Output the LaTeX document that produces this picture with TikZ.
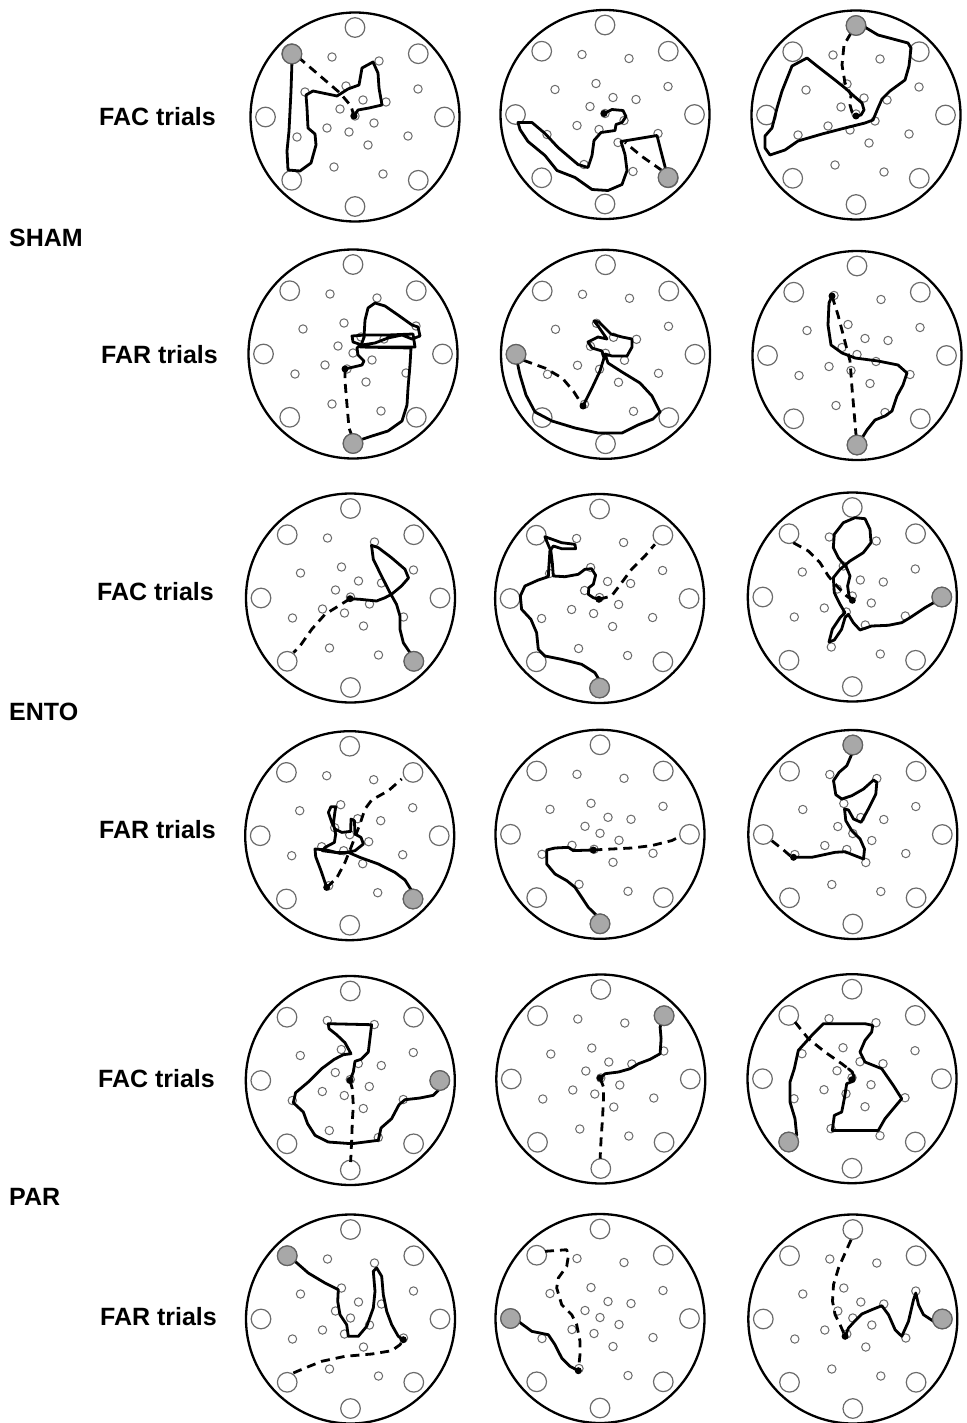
\documentclass[tikz,border=0pt]{standalone}
\usepackage{fontspec}
\setmainfont{Liberation Sans}
\definecolor{holegray}{gray}{0.42}
\definecolor{goalfill}{gray}{0.66}
\definecolor{goalline}{gray}{0.38}
\tikzset{
  rim/.style={draw=black, line width=2.3pt},
  platform/.style={draw=holegray, line width=1.2pt, fill=white},
  cue/.style={draw=holegray, line width=1pt, fill=white},
  track/.style={draw=black, line width=2.8pt, line join=round, line cap=round},
  probe/.style={draw=black, line width=2.8pt, line join=round, dash pattern=on 9pt off 6pt},
  goal/.style={draw=goalline, fill=goalfill, line width=1.2pt},
  entry/.style={fill=black},
  trial/.style={font=\fontsize{25}{30}\selectfont\bfseries, anchor=east, inner sep=0pt},
  group/.style={font=\fontsize{25}{30}\selectfont\bfseries, anchor=west, inner sep=0pt},
}
% pool floor: rim, eight peripheral holes and the inner field of small holes
\newcommand{\poolfloor}{%
  \draw[rim] (0,0) circle[radius=104.5];
  \foreach \a in {0,45,...,315} \draw[platform] (\a:89.5) circle[radius=9.8];
  \foreach \p in {(-23,-60),(24,-56),(-50,-25),(-9,-31),(63,-28),(8,-17),(31,-15),
                  (-15,-8),(0,-1),(19,6),(-28,11),(-6,15),(-58,20),(53,19),(13,28),
                  (-21,50),(28,57)}
    \draw[cue] \p circle[radius=4.2];
}
\begin{document}
\begin{tikzpicture}[x=1pt,y=-1pt]
\useasboundingbox (0,0) rectangle (966,1423);
\fill[white] (0,0) rectangle (966,1423);

% labels
\node[group] (sham) at (9,238) {SHAM};
\node[group] (ento) at (9,712) {ENTO};
\node[group] (par)  at (9,1197) {PAR};
\node[trial] (fac1) at (216,117) {FAC trials};
\node[trial] (far1) at (218,355) {FAR trials};
\node[trial] (fac2) at (214,592) {FAC trials};
\node[trial] (far2) at (216,830) {FAR trials};
\node[trial] (fac3) at (215,1079) {FAC trials};
\node[trial] (far3) at (217,1317) {FAR trials};

% ---------- SHAM, FAC ----------
\begin{scope}[shift={(355,117)}]
  \poolfloor
  \draw[probe] plot coordinates {(-57,-60) (-15,-24) (-4,-11) (-1,-1)};
  \draw[track] plot coordinates {(-63,-56) (-64,-26) (-66,14) (-68,34) (-67,53) (-55,54) (-44,46) (-39,28) (-40,17) (-47,11) (-48,-9) (-49,-22) (-42,-26) (-18,-21) (-7,-28) (4,-32) (7,-49) (18,-55) (23,-44) (24,-29) (27,-12) (14,-9) (3,-7) (-1,-1)};
  \draw[goal] (-63,-63) circle[radius=9.8];
  \fill[entry] (-1,-1) circle[radius=3.5];
\end{scope}
\begin{scope}[shift={(605,114.5)}]
  \poolfloor
  \draw[probe] plot coordinates {(57,56) (37,42) (20,28)};
  \draw[track] plot coordinates {(-1,-1) (7,-5) (18,-4) (21,2) (17,8) (11,10) (10,16) (-4,18) (-11,26) (-13,41) (-17,53) (-27,50) (-47,33) (-60,19) (-73,8) (-87,8) (-85,15) (-77,27) (-60,41) (-48,56) (-30,63) (-13,75) (3,76) (17,70) (22,56) (20,40) (16,27) (52,21) (55,33) (61,56)};
  \draw[goal] (63,63) circle[radius=9.8];
  \fill[entry] (-1,-1) circle[radius=3.5];
\end{scope}
\begin{scope}[shift={(856,115)}]
  \poolfloor
  \draw[probe] plot coordinates {(-5,-82) (-12,-70) (-14,-50) (-11,-32) (-5,-20) (-6,-10) (-4,-3) (0,1)};
  \draw[track] plot coordinates {(0,1) (5,0) (8,-5) (6,-12) (-1,-18) (-11,-27) (-21,-35) (-39,-49) (-49,-57) (-64,-49) (-74,-24) (-79,-7) (-84,13) (-91,21) (-91,33) (-86,40) (-71,35) (-58,26) (-34,19) (-11,13) (9,8) (17,5) (22,-7) (26,-16) (34,-24) (49,-35) (53,-49) (55,-67) (52,-72) (22,-80) (7,-89)};
  \draw[goal] (0,-89.5) circle[radius=9.8];
  \fill[entry] (0,1) circle[radius=3.5];
\end{scope}

% ---------- SHAM, FAR ----------
\begin{scope}[shift={(353,354)}]
  \poolfloor
  \draw[probe] plot coordinates {(-8,15) (-8,27) (-6,51) (-4,74) (-1,82)};
  \draw[track] plot coordinates {(-8,15) (9,11) (11,7) (5,1) (4,-6) (9,-11) (11,-17) (12,-34) (15,-46) (22,-51) (32,-48) (45,-39) (59,-29) (65,-27) (67,-18) (59,-15) (49,-19) (35,-16) (22,-11) (9,-9) (0,-12) (-1,-18) (12,-19) (35,-19) (60,-20) (62,-7) (7,-7) (58,-6) (57,11) (55,34) (54,51) (49,67) (35,77) (19,82) (7,86)};
  \draw[goal] (0,89.5) circle[radius=9.8];
  \fill[entry] (-8,15) circle[radius=3.5];
\end{scope}
\begin{scope}[shift={(605.5,354.3)}]
  \poolfloor
  \draw[probe] plot coordinates {(-82,6) (-60,14) (-43,24) (-32,37) (-22.5,51.7)};
  \draw[track] plot coordinates {(-22.5,51.7) (-13.5,33.7) (-5.5,16.7) (-1.5,3.7) (-3.5,-3.3) (-13.5,-6.3) (-17.5,-12.3) (-7.5,-17.3) (1.5,-15.3) (-7.5,-28.3) (-11.5,-33.3) (-6.5,-32.3) (5.5,-20.3) (16.5,-17.3) (26.5,-15.3) (26.5,-7.3) (21.5,1.7) (6.5,1.7) (-0.5,-0.3) (2.5,8.7) (16.5,17.7) (34.5,28.7) (46.5,41.7) (54.5,57.7) (47.5,64.7) (32.5,70.7) (16.5,78.7) (-7.5,78.7) (-30.5,73.7) (-53.5,66.7) (-70.5,57.7) (-79.5,40.7) (-85.5,20.7) (-88.5,6.7)};
  \draw[goal] (-89.5,0) circle[radius=9.8];
  \fill[entry] (-22.5,51.7) circle[radius=3.5];
\end{scope}
\begin{scope}[shift={(857,355.5)}]
  \poolfloor
  \draw[probe] plot coordinates {(-25,-59.5) (-19,-40.5) (-13,-17.5) (-7,5.5) (-5,32.5) (-3,55.5) (-1,79.5)};
  \draw[track] plot coordinates {(-25,-59.5) (-28,-52.5) (-29,-30.5) (-26,-10.5) (-15,-2.5) (-2,2.5) (21,5.5) (41,9.5) (50,17.5) (46,29.5) (40,40.5) (35,55.5) (28,60.5) (18,64.5) (10,74.5) (5,82.5)};
  \draw[goal] (0,89.5) circle[radius=9.8];
  \fill[entry] (-25,-59.5) circle[radius=3.5];
\end{scope}

% ---------- ENTO, FAC ----------
\begin{scope}[shift={(350.5,598)}]
  \poolfloor
  \draw[probe] plot coordinates {(-0.5,0.7) (-12,8) (-25.5,16.3) (-38.8,31.3) (-50.5,48) (-57,54.7)};
  \draw[track] plot coordinates {(-0.5,0.7) (9.5,1.3) (26,3) (34.5,-0.3) (41,-3.7) (51,-12) (58,-20) (54.5,-28.7) (41,-40.3) (27.8,-50.3) (21,-52.7) (22.8,-38.7) (31,-22) (39.5,-5.3) (46,6.3) (49.5,18) (49.5,31.3) (52.8,44.7) (59.5,54.7)};
  \draw[goal] (63.3,63.3) circle[radius=9.8];
  \fill[entry] (-0.5,0.7) circle[radius=3.5];
\end{scope}
\begin{scope}[shift={(599.6,598.5)}]
  \poolfloor
  \draw[probe] plot coordinates {(-0.7,0.8) (12,-2.5) (22,-15.8) (32,-29.2) (45.3,-42.5) (55.3,-54.2)};
  \draw[track] plot coordinates {(-0.7,0.8) (-6.3,-0.8) (-11.3,-4.2) (-10.7,-10.8) (-6.3,-14.2) (-4,-23.2) (-8,-29.8) (-14.7,-29.2) (-21.3,-24.2) (-34.7,-21.8) (-46.3,-22.5) (-47.3,-35.8) (-48.7,-47.5) (-53,-57.5) (-54.7,-61.8) (-38,-55.8) (-24.7,-54.2) (-24,-49.8) (-38,-49.8) (-46.3,-52.5) (-49.7,-47.5) (-50.7,-32.5) (-51.3,-21.8) (-61.3,-18.5) (-74.7,-12.5) (-79.3,-2.5) (-78,10.8) (-68.7,20.8) (-63,34.2) (-61.3,50.8) (-54.7,57.5) (-38,60.8) (-18,65.8) (-4.7,74.2) (0.3,82.5)};
  \draw[goal] (0,89.5) circle[radius=9.8];
  \fill[entry] (-0.7,0.8) circle[radius=3.5];
\end{scope}
\begin{scope}[shift={(852.3,597)}]
  \poolfloor
  \draw[probe] plot coordinates {(-59,-54.3) (-44,-46) (-32.3,-34.3) (-24,-21) (-14,-9.3) (-5.7,-1) (0,3.3)};
  \draw[track] plot coordinates {(0,3.3) (-3.3,-1) (-4.7,-11) (-2.3,-21) (-5.7,-29.3) (-14,-39.3) (-19,-49.3) (-18,-62.7) (-9,-74.3) (2.7,-79.3) (12.7,-78.3) (17.7,-67.7) (18.7,-54.3) (11,-44.3) (-2.3,-36) (-12.3,-27.7) (-19,-19.3) (-18,-4.3) (-12.3,7.3) (-7.3,15.7) (-12.3,20.7) (-20,32.3) (-23.3,45) (-18,43) (-10.7,32.3) (-7.3,20.7) (-4,17.3) (1,25.7) (7.7,33) (19.3,29) (36,28.3) (49.3,25.7) (57.7,20.7) (72.7,10.7) (84.3,4)};
  \draw[goal] (89.5,0) circle[radius=9.8];
  \fill[entry] (0,3.3) circle[radius=3.5];
\end{scope}

% ---------- ENTO, FAR ----------
\begin{scope}[shift={(349.7,835.7)}]
  \poolfloor
  \draw[probe] plot coordinates {(-23,51.7) (-13,42.3) (-4.7,26.7) (1.3,11.7) (10.3,-11.7) (15.3,-26.7) (22,-35.7) (38.7,-45) (52,-56.7)};
  \draw[track] plot coordinates {(-23,51.7) (-28.7,35) (-34,21) (-34.7,13.3) (-23,14.3) (-9.7,17.7) (5.3,15) (13.7,8.3) (11.3,1.7) (5.3,-1.7) (4.7,-15) (1.3,-16.7) (1,-4.3) (-8,-3.3) (-14.7,-6.7) (-18,-13.3) (-21.3,-23.3) (-18.7,-29) (-14,-29) (-15.3,-20) (-16.3,-11.7) (-14,-1.7) (-15.3,6.7) (-24.7,11.7) (-27.3,15) (-14.7,16.7) (-1.3,16.7) (10.3,21.7) (28.7,28.3) (45.3,36.7) (55.3,44.3) (62,55)};
  \draw[goal] (63.3,63.3) circle[radius=9.8];
  \fill[entry] (-23,51.7) circle[radius=3.5];
\end{scope}
\begin{scope}[shift={(600,834.3)}]
  \poolfloor
  \draw[probe] plot coordinates {(-6.7,15.7) (11.7,14.7) (31.7,13.7) (51.7,11.3) (71.7,6.3) (80,2.3)};
  \draw[track] plot coordinates {(-6.7,15.7) (-26.7,16.3) (-31.7,13) (-45,13.7) (-53.3,15.7) (-53.3,29.7) (-45,39.7) (-33.3,46.3) (-25,53) (-18.3,63) (-11.7,73) (-3.3,81.3)};
  \draw[goal] (0,89.5) circle[radius=9.8];
  \fill[entry] (-6.7,15.7) circle[radius=3.5];
\end{scope}
\begin{scope}[shift={(852.8,834.5)}]
  \poolfloor
  \draw[probe] plot coordinates {(-81,6.2) (-76,10.2) (-69.3,15.5) (-62.7,21.2) (-59.3,22.8)};
  \draw[track] plot coordinates {(-59.3,22.8) (-41,22.8) (-17.7,17.8) (-7.7,17.2) (2.3,21.2) (10.7,24.5) (11.7,14.5) (7.3,4.5) (-1,-3.8) (-7,-13.8) (-8.3,-25.5) (-4.3,-24.5) (0.7,-15.5) (8.3,-12.2) (15,-24.5) (23,-40.5) (24,-52.2) (20.7,-54.5) (10.7,-45.5) (-1,-38.8) (-11,-35.5) (-17,-39.8) (-19.3,-53.8) (-13.7,-62.2) (-6,-68.8) (-1.7,-78.8) (-0.3,-84.5)};
  \draw[goal] (0,-89.5) circle[radius=9.8];
  \fill[entry] (-59.3,22.8) circle[radius=3.5];
\end{scope}

% ---------- PAR, FAC ----------
\begin{scope}[shift={(350.3,1080.5)}]
  \poolfloor
  \draw[probe] plot coordinates {(-0.3,-0.2) (2,8.2) (3,24.8) (2,41.5) (1.3,61.5) (0.3,81.5)};
  \draw[track] plot coordinates {(-0.3,-0.2) (3,-8.5) (4.7,-19.2) (10.7,-21.2) (18,-28.5) (21.3,-55.8) (-22,-56.8) (-21.3,-51.8) (-13.7,-45.8) (-5.3,-37.8) (0.7,-26.8) (-7,-25.8) (-16,-21.2) (-28.7,-11.8) (-42,1.5) (-54.7,12.2) (-57,22.2) (-47,31.5) (-42.7,43.2) (-35.3,54.8) (-22,61.5) (1.3,63.2) (28,59.8) (30.7,47.5) (41.3,38.2) (48.7,24.2) (54.7,19.2) (69.7,17.5) (83,14.8) (89.7,8.2)};
  \draw[goal] (89.5,0) circle[radius=9.8];
  \fill[entry] (-0.3,-0.2) circle[radius=3.5];
\end{scope}
\begin{scope}[shift={(600.8,1079)}]
  \poolfloor
  \draw[probe] plot coordinates {(-0.7,-1) (2.7,8) (2.7,19.7) (1.7,39.7) (0.3,59.7) (-0.7,79.7)};
  \draw[track] plot coordinates {(-0.7,-1) (4.3,-5.3) (17.7,-7) (29.3,-10.3) (37.7,-15.3) (49.3,-19.7) (59.3,-25.3) (60.3,-40.3) (59.3,-52) (62,-60)};
  \draw[goal] (63.3,-63.3) circle[radius=9.8];
  \fill[entry] (-0.7,-1) circle[radius=3.5];
\end{scope}
\begin{scope}[shift={(852,1078.7)}]
  \poolfloor
  \draw[probe] plot coordinates {(-57,-56.7) (-43.7,-40) (-27,-26.7) (-10.3,-15) (-3.7,-10)};
  \draw[track] plot coordinates {(-3.7,-10) (0.3,-6.7) (2.3,-0.7) (-1,3.3) (-5.3,5) (-7.7,20) (-10.3,33.3) (-17.7,36.7) (-19.7,51.7) (26.3,51.7) (33,40) (41.3,30) (49.7,20) (41.3,6.7) (29.7,-10) (13,-16.7) (8,-26.7) (13,-38.3) (19.7,-46.7) (20.7,-53.3) (13,-55) (-28.7,-55) (-38.7,-45) (-53.7,-28.3) (-57.7,-10) (-62,3.3) (-62,23.3) (-57,40) (-55.3,56.7)};
  \draw[goal] (-63.3,63.3) circle[radius=9.8];
  \fill[entry] (0,1) circle[radius=3.5];
\end{scope}

% ---------- PAR, FAR ----------
\begin{scope}[shift={(350.5,1319)}]
  \poolfloor
  \draw[probe] plot coordinates {(-57.2,54) (-45.5,49) (-28.8,42.3) (-5.5,37.3) (21.2,35) (41.2,31.7) (49.5,25.7) (52.8,20.7)};
  \draw[track] plot coordinates {(-55.5,-57.7) (-42.2,-46) (-25.5,-36) (-12.2,-29.3) (-12.8,-17.7) (-10.5,-4.3) (-3.8,5.7) (-2.2,17.3) (7.8,17.3) (16.2,7.3) (22.8,-11) (24.5,-27.7) (22.8,-47.7) (26.2,-51) (31.2,-42.7) (32.8,-24.3) (36.2,-7.7) (41.2,5.7) (47.8,17.3) (52.8,20.7)};
  \draw[goal] (-63.3,-63.3) circle[radius=9.8];
  \fill[entry] (52.8,20.7) circle[radius=3.5];
\end{scope}
\begin{scope}[shift={(600,1318.5)}]
  \poolfloor
  \draw[probe] plot coordinates {(-55,-67.2) (-33.3,-68.8) (-31.7,-62.2) (-33.3,-52.2) (-41.7,-40.5) (-43.3,-30.5) (-38.3,-13.8) (-28.3,-3.8) (-23.3,6.2) (-20,22.8) (-20,36.2) (-21.7,52.2)};
  \draw[track] plot coordinates {(-81.7,2.8) (-68.3,12.8) (-51.7,16.2) (-45,26.2) (-38.3,39.5) (-30,47.8) (-21.7,52.2)};
  \draw[goal] (-89.5,0) circle[radius=9.8];
  \fill[entry] (-21.7,52.2) circle[radius=3.5];
\end{scope}
\begin{scope}[shift={(852.8,1319)}]
  \poolfloor
  \draw[probe] plot coordinates {(-1.7,-79.3) (-7.7,-66) (-14.3,-51) (-19.3,-34.3) (-20.3,-17.7) (-17.7,-4.3) (-12.7,5.7) (-7.7,17.3)};
  \draw[track] plot coordinates {(-7.7,17.3) (-4.3,9) (2.3,1.7) (9,-5) (19,-9.3) (29,-13.3) (35.7,-4.3) (42.3,10.7) (49,17.3) (55.7,2.3) (60.7,-19.3) (63,-26) (65.7,-14.3) (70.7,-4.3) (80.7,2.3)};
  \draw[goal] (89.5,0) circle[radius=9.8];
  \fill[entry] (-7.7,17.3) circle[radius=3.5];
\end{scope}
\end{tikzpicture}
\end{document}
